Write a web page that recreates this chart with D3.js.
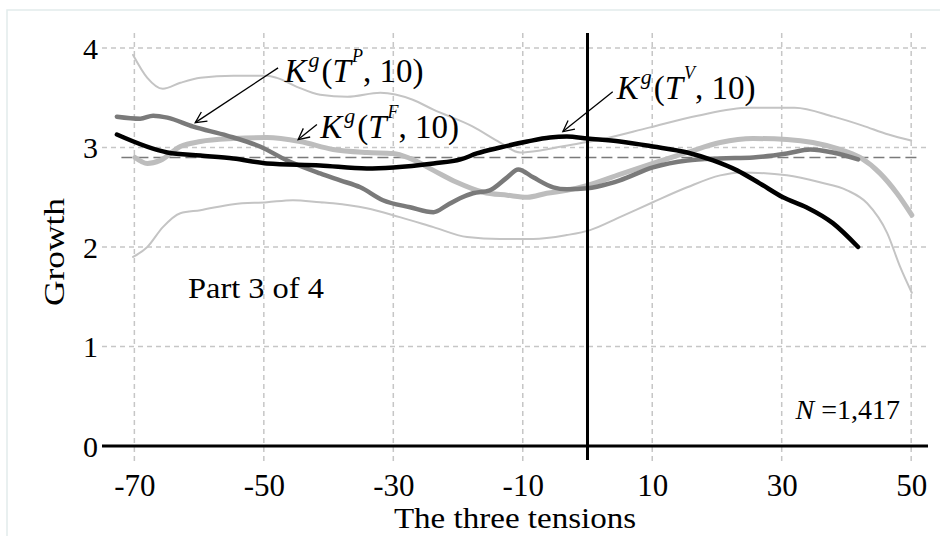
<!DOCTYPE html>
<html>
<head>
<meta charset="utf-8">
<script src="https://cdn.jsdelivr.net/npm/d3@7"></script>
<style>
  body { margin: 0; background: #fff; }
  svg { display: block; font-family: "Liberation Serif", "Times New Roman", serif; }
</style>
</head>
<body>
<svg id="chart" width="940" height="536"></svg>
<script>
// tick values
const xTicks = [-70, -50, -30, -10, 10, 30, 50];
const yTicks = [0, 1, 2, 3, 4];
const refLevel = 2.9;

// series: [tension, growth]
const kV = [[-72.7,3.13],[-64.9,2.95],[-59.8,2.92],[-54.7,2.89],[-49.5,2.84],[-41.3,2.82],[-34.1,2.79],[-30,2.80],[-23.8,2.84],[-19.6,2.88],[-17.1,2.94],[-13.5,3.0],[-9.3,3.06],[-5.8,3.10],[-3.2,3.11],[0,3.09],[5,3.06],[10.1,3.01],[15.4,2.95],[19.4,2.87],[23.1,2.77],[26.6,2.64],[30.2,2.50],[33.8,2.40],[37.9,2.24],[41.8,2.0]];
const kP = [[-72.7,3.31],[-69.1,3.29],[-67.1,3.32],[-64.9,3.30],[-60.9,3.21],[-55.7,3.12],[-50.6,3.01],[-46.4,2.87],[-41.3,2.74],[-38.2,2.67],[-35.1,2.60],[-31.6,2.47],[-27.4,2.40],[-23.8,2.35],[-21.7,2.42],[-19.7,2.49],[-17.7,2.54],[-15.1,2.57],[-12.4,2.70],[-10.7,2.78],[-8.4,2.70],[-5.3,2.60],[-3.2,2.58],[0,2.59],[3.5,2.64],[5,2.67],[10.1,2.80],[15.4,2.87],[20.5,2.89],[25.6,2.90],[30.8,2.94],[34.4,2.98],[37.9,2.95],[41.8,2.88]];
const kF = [[-69.9,2.90],[-68,2.84],[-66,2.87],[-62.9,3.01],[-59.8,3.06],[-54.7,3.09],[-49.5,3.10],[-44.4,3.06],[-39.3,2.98],[-34.1,2.95],[-30,2.94],[-27.4,2.89],[-23.8,2.77],[-20.2,2.65],[-16.1,2.55],[-12.4,2.52],[-9.3,2.50],[-6.3,2.54],[-3.2,2.57],[0,2.62],[5,2.73],[10.1,2.84],[15.4,2.95],[20.5,3.05],[25.6,3.09],[30.8,3.08],[34.8,3.05],[38.5,2.99],[42.1,2.90],[45.2,2.74],[47.8,2.54],[50.1,2.32]];
const ciUpper = [[-70.2,3.93],[-68,3.70],[-65.6,3.59],[-62.9,3.65],[-59.8,3.70],[-54.7,3.72],[-49.5,3.72],[-48,3.70],[-44.9,3.61],[-41.3,3.53],[-37.1,3.51],[-32,3.55],[-27,3.48],[-23.8,3.38],[-17.7,3.21],[-13.5,3.05],[-10.4,2.95],[-7.3,2.97],[-4,3.01],[2,3.08],[9.5,3.20],[17,3.32],[25,3.40],[32,3.40],[38,3.31],[42.5,3.22],[46.5,3.13],[50,3.07]];
const ciLower = [[-70.2,1.90],[-68,2.0],[-65.6,2.20],[-62.9,2.34],[-59.8,2.37],[-54.7,2.43],[-49.5,2.45],[-45.5,2.47],[-41.3,2.45],[-39.3,2.44],[-34.1,2.39],[-29,2.30],[-23.8,2.20],[-18.6,2.10],[-13.5,2.08],[-8.4,2.08],[-3.2,2.12],[0.4,2.17],[5,2.30],[10.1,2.45],[15.4,2.60],[20.5,2.72],[23.6,2.75],[30.8,2.72],[35.9,2.65],[40.1,2.57],[43.2,2.44],[46.3,2.14],[48.3,1.80],[50.1,1.54]];

// annotations: label anchor, arrow start, arrow end (data units)
const notes = [
  { sup: "P", at: [-46.8, 3.66], from: [-47.8, 3.80], to: [-60.6, 3.25] },
  { sup: "F", at: [-41.3, 3.10], from: [-41.8, 3.23], to: [-44.7, 3.08] },
  { sup: "V", at: [4.5, 3.49], from: [3.9, 3.56], to: [-3.8, 3.16] }
];

const svg = d3.select("#chart");

const x = d3.scaleLinear().domain([-75, 52.6]).range([102, 928]);
const y = d3.scaleLinear().domain([0, 4]).range([446, 48]);

// outer frame
svg.append("rect")
  .attr("x", 7).attr("y", 10).attr("width", 960).attr("height", 560)
  .attr("fill", "none").attr("stroke", "#e2ecec").attr("stroke-width", 1.5);

// grid
const grid = svg.append("g").attr("stroke", "#c6c6c6").attr("stroke-width", 1.5)
  .attr("stroke-dasharray", "5,4");
grid.selectAll(".gy").data(yTicks.filter(d => d > 0)).enter().append("line")
  .attr("x1", x(-75)).attr("x2", x(52.6))
  .attr("y1", d => y(d)).attr("y2", d => y(d));
grid.selectAll(".gx").data(xTicks).enter().append("line")
  .attr("x1", d => x(d)).attr("x2", d => x(d))
  .attr("y1", y(4.15)).attr("y2", y(0) + 15);

const line = d3.line().x(d => x(d[0])).y(d => y(d[1])).curve(d3.curveMonotoneX);

function drawSeries(data, color, width) {
  svg.append("path").datum(data)
    .attr("d", line)
    .attr("fill", "none")
    .attr("stroke", color)
    .attr("stroke-width", width)
    .attr("stroke-linejoin", "round")
    .attr("stroke-linecap", "round");
}

drawSeries(ciUpper, "#c4c4c4", 2);
drawSeries(ciLower, "#c4c4c4", 2);

// reference level
svg.append("line")
  .attr("x1", x(-72)).attr("x2", x(51.3))
  .attr("y1", y(refLevel)).attr("y2", y(refLevel))
  .attr("stroke", "#7a7a7a").attr("stroke-width", 1.6)
  .attr("stroke-dasharray", "11,5");

drawSeries(kF, "#bdbdbd", 5);
drawSeries(kP, "#7a7a7a", 4.5);
drawSeries(kV, "#000", 4.5);

// axis line and zero line
svg.append("line")
  .attr("x1", x(-75)).attr("x2", x(52.6))
  .attr("y1", y(0)).attr("y2", y(0))
  .attr("stroke", "#000").attr("stroke-width", 3);
svg.append("line")
  .attr("x1", x(0)).attr("x2", x(0))
  .attr("y1", y(4.15)).attr("y2", y(0) + 14)
  .attr("stroke", "#000").attr("stroke-width", 3);

// tick labels
const xAxis = svg.append("g")
  .attr("transform", `translate(0,${y(0)})`)
  .call(d3.axisBottom(x).tickValues(xTicks).tickSize(0).tickFormat(d => String(d)));
xAxis.select(".domain").remove();
xAxis.selectAll("text")
  .attr("y", 50).attr("dy", 0)
  .attr("font-size", 31).attr("font-family", "Liberation Serif")
  .attr("fill", "#000");

const yAxis = svg.append("g")
  .attr("transform", `translate(${x(-75)},0)`)
  .call(d3.axisLeft(y).tickValues(yTicks).tickSize(0).tickFormat(d => String(d)));
yAxis.select(".domain").remove();
yAxis.selectAll("text")
  .attr("x", -4).attr("dy", "0.34em")
  .attr("font-size", 30).attr("font-family", "Liberation Serif")
  .attr("fill", "#000");

// axis titles
svg.append("text")
  .attr("transform", `translate(${(x(-75) + x(52.6)) / 2},528) scale(1.14,1)`)
  .attr("text-anchor", "middle").attr("font-size", 29)
  .text("The three tensions");
svg.append("text")
  .attr("transform", `translate(64,252) rotate(-90) scale(1.18,1)`)
  .attr("text-anchor", "middle").attr("font-size", 30)
  .text("Growth");

svg.append("text")
  .attr("transform", `translate(188,298) scale(1.08,1)`)
  .attr("font-size", 30)
  .text("Part 3 of 4");

const nText = svg.append("text")
  .attr("transform", `translate(900,419)`)
  .attr("text-anchor", "end").attr("font-size", 28);
nText.append("tspan").attr("font-style", "italic").text("N");
nText.append("tspan").text(" =1,417");

// arrows
const defs = svg.append("defs");
defs.append("marker")
  .attr("id", "arrow")
  .attr("viewBox", "-12 -7 14 14")
  .attr("markerWidth", 14).attr("markerHeight", 14)
  .attr("markerUnits", "userSpaceOnUse")
  .attr("refX", 0).attr("refY", 0)
  .attr("orient", "auto")
  .append("path")
  .attr("d", "M -11,-5.5 L 0,0 L -11,5.5")
  .attr("fill", "none").attr("stroke", "#000").attr("stroke-width", 1.3);

notes.forEach(n => {
  svg.append("line")
    .attr("x1", x(n.from[0])).attr("y1", y(n.from[1]))
    .attr("x2", x(n.to[0])).attr("y2", y(n.to[1]))
    .attr("stroke", "#000").attr("stroke-width", 1.3)
    .attr("marker-end", "url(#arrow)");

  const t = svg.append("text")
    .attr("transform", `translate(${x(n.at[0])},${y(n.at[1])})`)
    .attr("font-size", 33);
  t.append("tspan").attr("font-style", "italic").text("K");
  t.append("tspan").attr("font-style", "italic").attr("font-size", 22)
    .attr("dx", 2).attr("dy", -15).text("g");
  t.append("tspan").attr("dy", 15).attr("dx", 2).text("(");
  t.append("tspan").attr("font-style", "italic").text("T");
  t.append("tspan").attr("font-style", "italic").attr("font-size", 18)
    .attr("dx", 1).attr("dy", -20).text(n.sup);
  t.append("tspan").attr("dy", 20).text(", 10)");
});
</script>
</body>
</html>
